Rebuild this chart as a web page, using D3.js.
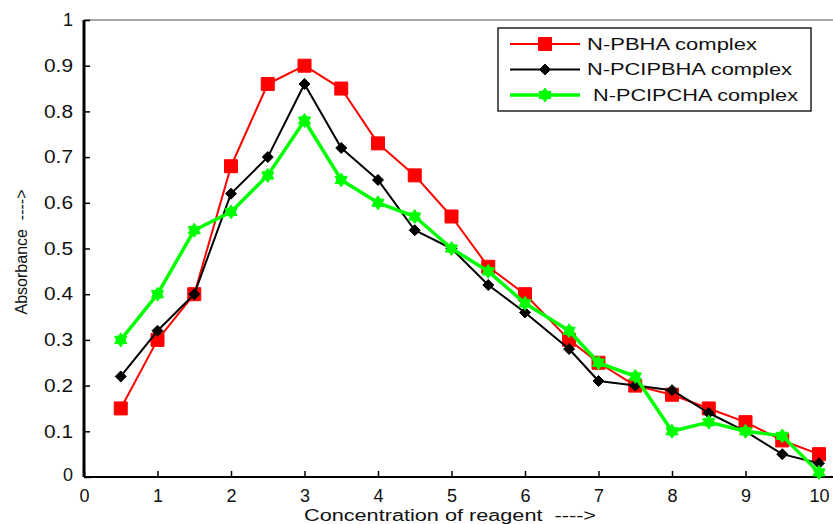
<!DOCTYPE html>
<html>
<head>
<meta charset="utf-8">
<script src="https://cdn.jsdelivr.net/npm/d3@7"></script>
<style>
  body { margin: 0; background: #fff; }
  svg { display: block; font-family: "Liberation Sans", Arial, sans-serif; }
</style>
</head>
<body>
<svg id="chart" width="833" height="524"></svg>
<script>
// concentration values (x)
const conc = [0.5, 1, 1.5, 2, 2.5, 3, 3.5, 4, 4.5, 5, 5.5, 6, 6.6, 7, 7.5, 8, 8.5, 9, 9.5, 10];
// absorbance
const pbha = [0.15, 0.30, 0.40, 0.68, 0.86, 0.90, 0.85, 0.73, 0.66, 0.57, 0.46, 0.40, 0.30, 0.25, 0.20, 0.18, 0.15, 0.12, 0.08, 0.05];
const pcipbha = [0.22, 0.32, 0.40, 0.62, 0.70, 0.86, 0.72, 0.65, 0.54, 0.50, 0.42, 0.36, 0.28, 0.21, 0.20, 0.19, 0.14, 0.10, 0.05, 0.03];
const pcipcha = [0.30, 0.40, 0.54, 0.58, 0.66, 0.78, 0.65, 0.60, 0.57, 0.50, 0.45, 0.38, 0.32, 0.25, 0.22, 0.10, 0.12, 0.10, 0.09, 0.01];
const legendNames = ["N-PBHA complex", "N-PCIPBHA complex", " N-PCIPCHA complex"];
const xTicks = [0, 1, 2, 3, 4, 5, 6, 7, 8, 9, 10];
const yTicks = [0, 0.1, 0.2, 0.3, 0.4, 0.5, 0.6, 0.7, 0.8, 0.9, 1];

const svg = d3.select('#chart');
const width = +svg.attr('width');
const margin = { left: 84, top: 20, bottom: 47 };
const x = d3.scaleLinear().domain([0, 10]).range([margin.left, 819]);
const y = d3.scaleLinear().domain([0, 1]).range([477, margin.top]);

// the original text is drawn wide, so stretch it horizontally
const stretch = (sel, len) => sel.attr('textLength', len).attr('lengthAdjust', 'spacingAndGlyphs');

// frame: gray top line
svg.append('line')
  .attr('x1', margin.left).attr('x2', width)
  .attr('y1', y(1)).attr('y2', y(1))
  .attr('stroke', '#555').attr('stroke-width', 1.2);

// x axis
const xAxis = svg.append('g')
  .attr('transform', `translate(0,${y(0)})`)
  .call(d3.axisBottom(x).tickValues(xTicks).tickSize(-6).tickPadding(12).tickFormat(d3.format('d')));
xAxis.select('.domain').remove();
xAxis.append('line')
  .attr('x1', margin.left).attr('x2', width)
  .attr('stroke', '#000').attr('stroke-width', 2);
xAxis.selectAll('.tick line').attr('stroke', '#000').attr('stroke-width', 1.5);
xAxis.selectAll('.tick text')
  .attr('font-size', 18).attr('fill', '#111');

// y axis
const yAxis = svg.append('g')
  .attr('transform', `translate(${margin.left},0)`)
  .call(d3.axisLeft(y).tickValues(yTicks).tickSize(-6).tickPadding(11)
    .tickFormat(d => d === 0 || d === 1 ? d3.format('d')(d) : d3.format('.1f')(d)));
yAxis.select('.domain').remove();
yAxis.append('line')
  .attr('y1', y(0)).attr('y2', y(1))
  .attr('stroke', '#000').attr('stroke-width', 3);
yAxis.selectAll('.tick line').attr('stroke', '#000').attr('stroke-width', 1.5);
yAxis.selectAll('.tick text')
  .attr('font-size', 18).attr('fill', '#111');
yAxis.selectAll('.tick').filter(d => d > 0 && d < 1).select('text').call(stretch, 29);
// the "0" at the origin sits a bit lower in the original
yAxis.selectAll('.tick').filter(d => d === 0).select('text').attr('dy', '0.2em');

// axis titles
svg.append('text')
  .attr('x', 450).attr('y', 521)
  .attr('text-anchor', 'middle')
  .attr('font-size', 16).attr('fill', '#111')
  .attr('xml:space', 'preserve')
  .text('Concentration of reagent  ---->')
  .call(stretch, 292);
svg.append('text')
  .attr('transform', 'translate(27,252) rotate(-90)')
  .attr('text-anchor', 'middle')
  .attr('font-size', 16).attr('fill', '#111')
  .attr('xml:space', 'preserve')
  .text('Absorbance  ---->')
  .call(stretch, 125);

// marker shapes
const squarePath = s => `M${-s},${-s}H${s}V${s}H${-s}Z`;
const diamondPath = s => `M0,${-s}L${s},0L0,${s}L${-s},0Z`;
const hexagramPath = r => {
  const pts = [];
  for (let i = 0; i < 12; i++) {
    const a = Math.PI / 6 * i - Math.PI / 2;
    const rr = i % 2 === 0 ? r : r * 0.62;
    pts.push([rr * Math.cos(a), rr * Math.sin(a)]);
  }
  return 'M' + pts.map(p => p.join(',')).join('L') + 'Z';
};

const series = [
  { name: legendNames[0], values: pbha, color: '#ff0000', lw: 2, marker: squarePath(6.5), tl: 170 },
  { name: legendNames[1], values: pcipbha, color: '#000000', lw: 2, marker: diamondPath(5.5), tl: 205 },
  { name: legendNames[2], values: pcipcha, color: '#00ff00', lw: 3.5, marker: hexagramPath(7), tl: 211 }
];

const line = d3.line().x(d => x(d[0])).y(d => y(d[1]));

series.forEach(s => {
  const pts = conc.map((c, i) => [c, s.values[i]]);
  const g = svg.append('g').attr('class', 'series');
  g.append('path')
    .datum(pts)
    .attr('d', line)
    .attr('fill', 'none')
    .attr('stroke', s.color)
    .attr('stroke-width', s.lw)
    .attr('stroke-linejoin', 'round');
  g.selectAll('path.mk')
    .data(pts)
    .enter()
    .append('path')
    .attr('class', 'mk')
    .attr('d', s.marker)
    .attr('transform', d => `translate(${x(d[0])},${y(d[1])})`)
    .attr('fill', s.color)
    .attr('stroke', s.color)
    .attr('stroke-width', 1);
});

// legend
const legend = svg.append('g').attr('transform', 'translate(498,28)');
legend.append('rect')
  .attr('width', 313).attr('height', 83)
  .attr('fill', '#fff').attr('stroke', '#222').attr('stroke-width', 1.5);
series.forEach((s, i) => {
  const ly = 16 + i * 25.5;
  legend.append('line')
    .attr('x1', 12).attr('x2', 82)
    .attr('y1', ly).attr('y2', ly)
    .attr('stroke', s.color).attr('stroke-width', s.lw);
  legend.append('path')
    .attr('d', s.marker)
    .attr('transform', `translate(47,${ly})`)
    .attr('fill', s.color).attr('stroke', s.color);
  legend.append('text')
    .attr('x', 89).attr('y', ly)
    .attr('dy', '0.36em')
    .attr('font-size', 16).attr('fill', '#111')
    .attr('xml:space', 'preserve')
    .text(s.name)
    .call(stretch, s.tl);
});
</script>
</body>
</html>
